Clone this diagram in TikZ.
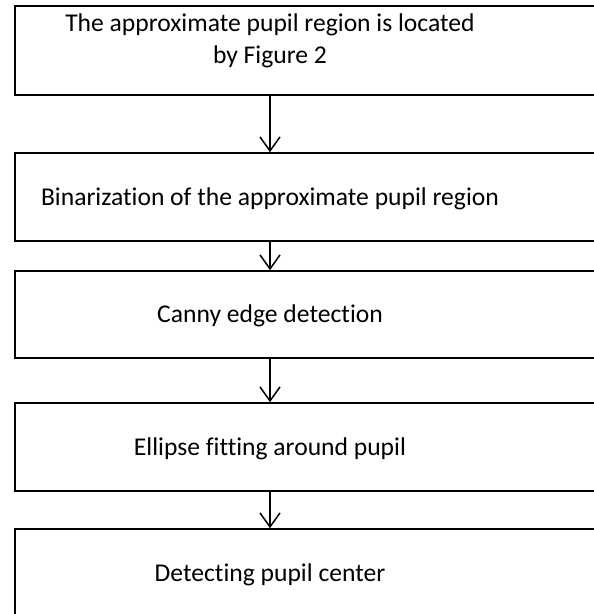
\documentclass[tikz,border=0pt]{standalone}
\usepackage{fontspec}
\setmainfont{Carlito}[Ligatures=NoCommon]
\usetikzlibrary{arrows.meta}
\begin{document}
\begin{tikzpicture}[x=1pt,y=-1pt,
  boxst/.style={draw=black, line width=1.6pt, rectangle, minimum width=620pt, inner sep=0pt},
  lbl/.style={font=\fontsize{25.6}{32}\selectfont, align=center, inner sep=0pt, anchor=base},
  arr/.style={line width=1.5pt, -{Straight Barb[length=14pt,width=20pt]}}]
\useasboundingbox (0,0) rectangle (594,614);
\clip (0,0) rectangle (594,614);
\node[boxst, minimum height=89pt] (b1) at (325,50.5) {};
\node[boxst, minimum height=88pt] (b2) at (325,197) {};
\node[boxst, minimum height=87pt] (b3) at (325,314.5) {};
\node[boxst, minimum height=88pt] (b4) at (325,447) {};
\node[boxst, minimum height=89pt] (b5) at (325,573.5) {};
\node[lbl] (t1) at (270,63) {The approximate pupil region is located\\by Figure 2};
\node[lbl] (t2) at (270,205.5) {Binarization of the approximate pupil region};
\node[lbl] (t3) at (270,322.75) {Canny edge detection};
\node[lbl] (t4) at (270,455) {Ellipse fitting around pupil};
\node[lbl] (t5) at (270,581) {Detecting pupil center};
\draw[arr] (t1 |- b1.south) -- (t1 |- b2.north);
\draw[arr] (t1 |- b2.south) -- (t1 |- b3.north);
\draw[arr] (t1 |- b3.south) -- (t1 |- b4.north);
\draw[arr] (t1 |- b4.south) -- (t1 |- b5.north);
\end{tikzpicture}
\end{document}
